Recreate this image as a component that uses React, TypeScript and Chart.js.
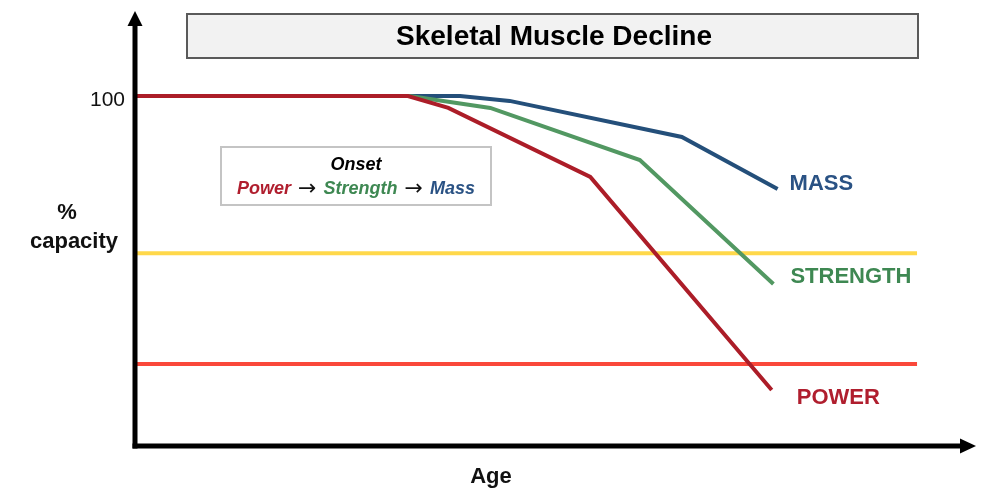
import React, { useEffect, useRef } from "react";
import { Chart, registerables } from "chart.js";

Chart.register(...registerables);

// Age position (0–100 along the x axis) and % capacity for each trajectory
const powerAge = [0, 32.5, 37.3, 54.2, 75.8];
const powerPct = [100, 100, 96.6, 76.9, 16.0];
const strengthAge = [0, 32.7, 42.3, 60.1, 76.0];
const strengthPct = [100, 100, 96.6, 81.7, 46.3];
const massAge = [0, 32.7, 38.7, 44.6, 65.1, 76.5];
const massPct = [100, 100, 100, 98.6, 88.3, 73.4];

// Horizontal threshold lines
const thresholdAge = [0, 93.1];
const upperThreshold = 55.1;
const lowerThreshold = 23.4;

const yTickLabels = [100];
const seriesNames = ["MASS", "STRENGTH", "POWER"];
const chartTitle = "Skeletal Muscle Decline";
const xTitle = "Age";
const yTitle = ["%", "capacity"];
const onsetTitle = "Onset";
const onsetParts = ["Power", "Strength", "Mass"];

const COLORS = {
  power: "rgb(172,29,40)",
  strength: "rgb(82,152,98)",
  mass: "rgb(36,79,122)",
  yellow: "rgb(255,216,74)",
  red: "rgb(250,72,58)",
  powerText: "rgb(176,30,46)",
  strengthText: "rgb(62,136,82)",
  massText: "rgb(42,82,132)",
};

const FONT = "'Liberation Sans', Arial, sans-serif";

const toPoints = (xs: number[], ys: number[]) => xs.map((x, i) => ({ x, y: ys[i] }));

const overlay = {
  id: "overlay",
  afterDatasetsDraw(chart: any) {
    const ctx: CanvasRenderingContext2D = chart.ctx;
    const xs = chart.scales.x;
    const ys = chart.scales.y;
    const area = chart.chartArea;
    ctx.save();

    // Axes with arrowheads
    ctx.strokeStyle = "#000";
    ctx.fillStyle = "#000";
    ctx.lineWidth = 5;
    ctx.lineCap = "butt";
    ctx.beginPath();
    ctx.moveTo(area.left, area.bottom + 2.5);
    ctx.lineTo(area.left, 24);
    ctx.stroke();
    ctx.beginPath();
    ctx.moveTo(area.left, 11);
    ctx.lineTo(area.left - 7.5, 26);
    ctx.lineTo(area.left + 7.5, 26);
    ctx.closePath();
    ctx.fill();

    ctx.beginPath();
    ctx.moveTo(area.left - 2.5, area.bottom);
    ctx.lineTo(area.right - 13, area.bottom);
    ctx.stroke();
    ctx.beginPath();
    ctx.moveTo(area.right + 1, area.bottom);
    ctx.lineTo(area.right - 15, area.bottom - 7.5);
    ctx.lineTo(area.right - 15, area.bottom + 7.5);
    ctx.closePath();
    ctx.fill();

    // Y tick label
    ctx.font = `21px ${FONT}`;
    ctx.textAlign = "right";
    ctx.textBaseline = "middle";
    ctx.fillStyle = "#111";
    yTickLabels.forEach((v) => ctx.fillText(String(v), 125, ys.getPixelForValue(v) + 4));

    // Axis titles
    ctx.font = `bold 22px ${FONT}`;
    ctx.textAlign = "center";
    ctx.textBaseline = "alphabetic";
    ctx.fillText(xTitle, 491, 483);
    ctx.fillText(yTitle[0], 67, 219);
    ctx.fillText(yTitle[1], 74, 248);

    // Title box
    ctx.fillStyle = "#f2f2f2";
    ctx.fillRect(187, 14, 731, 44);
    ctx.strokeStyle = "#5a5a5a";
    ctx.lineWidth = 2;
    ctx.strokeRect(187, 14, 731, 44);
    ctx.fillStyle = "#000";
    ctx.font = `bold 28px ${FONT}`;
    ctx.textAlign = "center";
    ctx.textBaseline = "middle";
    ctx.fillText(chartTitle, 554, 37);

    // Onset box
    ctx.fillStyle = "#fff";
    ctx.fillRect(221, 147, 270, 58);
    ctx.strokeStyle = "#c4c4c4";
    ctx.lineWidth = 2;
    ctx.strokeRect(221, 147, 270, 58);
    ctx.fillStyle = "#000";
    ctx.font = `italic bold 18px ${FONT}`;
    ctx.fillText(onsetTitle, 356, 165);

    const partFont = `italic bold 18px ${FONT}`;
    const arrowFont = `22px 'DejaVu Sans', ${FONT}`;
    const arrow = " \u2192 ";
    const partColors = [COLORS.powerText, COLORS.strengthText, COLORS.massText];
    const pieces: { text: string; font: string; color: string; dy: number }[] = [];
    onsetParts.forEach((p, i) => {
      pieces.push({ text: p, font: partFont, color: partColors[i], dy: 0 });
      if (i < onsetParts.length - 1) pieces.push({ text: arrow, font: arrowFont, color: "#111", dy: 1 });
    });
    let total = 0;
    pieces.forEach((p) => {
      ctx.font = p.font;
      total += ctx.measureText(p.text).width;
    });
    let cx = 356 - total / 2;
    ctx.textAlign = "left";
    ctx.textBaseline = "alphabetic";
    pieces.forEach((p) => {
      ctx.font = p.font;
      ctx.fillStyle = p.color;
      ctx.fillText(p.text, cx, 194 + p.dy);
      cx += ctx.measureText(p.text).width;
    });

    // End-of-line series labels
    const ends = [
      { age: massAge, pct: massPct, color: COLORS.massText, dx: 12, dy: -5 },
      { age: strengthAge, pct: strengthPct, color: COLORS.strengthText, dx: 17, dy: -7 },
      { age: powerAge, pct: powerPct, color: COLORS.powerText, dx: 25, dy: 8 },
    ];
    ctx.font = `bold 22px ${FONT}`;
    ctx.textAlign = "left";
    ctx.textBaseline = "middle";
    ends.forEach((e, i) => {
      const n = e.age.length - 1;
      const px = xs.getPixelForValue(e.age[n]);
      const py = ys.getPixelForValue(e.pct[n]);
      ctx.fillStyle = e.color;
      ctx.fillText(seriesNames[i], px + e.dx, py + e.dy);
    });

    ctx.restore();
  },
};

export default function App() {
  const canvasRef = useRef<HTMLCanvasElement | null>(null);

  useEffect(() => {
    const canvas = canvasRef.current;
    if (!canvas) return;
    const lineStyle = {
      borderWidth: 4,
      pointRadius: 0,
      tension: 0,
      fill: false,
    };
    const chart = new Chart(canvas, {
      type: "line",
      data: {
        datasets: [
          { ...lineStyle, label: "Power", data: toPoints(powerAge, powerPct), borderColor: COLORS.power, order: 1 },
          { ...lineStyle, label: "Strength", data: toPoints(strengthAge, strengthPct), borderColor: COLORS.strength, order: 2 },
          { ...lineStyle, label: "Mass", data: toPoints(massAge, massPct), borderColor: COLORS.mass, order: 3 },
          {
            ...lineStyle,
            label: "Upper threshold",
            data: toPoints(thresholdAge, thresholdAge.map(() => upperThreshold)),
            borderColor: COLORS.yellow,
            order: 4,
          },
          {
            ...lineStyle,
            label: "Lower threshold",
            data: toPoints(thresholdAge, thresholdAge.map(() => lowerThreshold)),
            borderColor: COLORS.red,
            order: 5,
          },
        ],
      },
      options: {
        responsive: false,
        animation: false,
        layout: { padding: { left: 135, right: 25, top: 26, bottom: 56 } },
        plugins: { legend: { display: false }, tooltip: { enabled: false }, title: { display: false } },
        scales: {
          x: { type: "linear", min: 0, max: 100, display: false },
          y: { type: "linear", min: 0, max: 120, display: false },
        },
      },
      plugins: [overlay],
    });
    return () => chart.destroy();
  }, []);

  return (
    <div style={{ position: "fixed", left: 0, top: 0, width: 1000, height: 502, background: "#fff" }}>
      <canvas ref={canvasRef} width={1000} height={502} style={{ width: 1000, height: 502 }} />
    </div>
  );
}
